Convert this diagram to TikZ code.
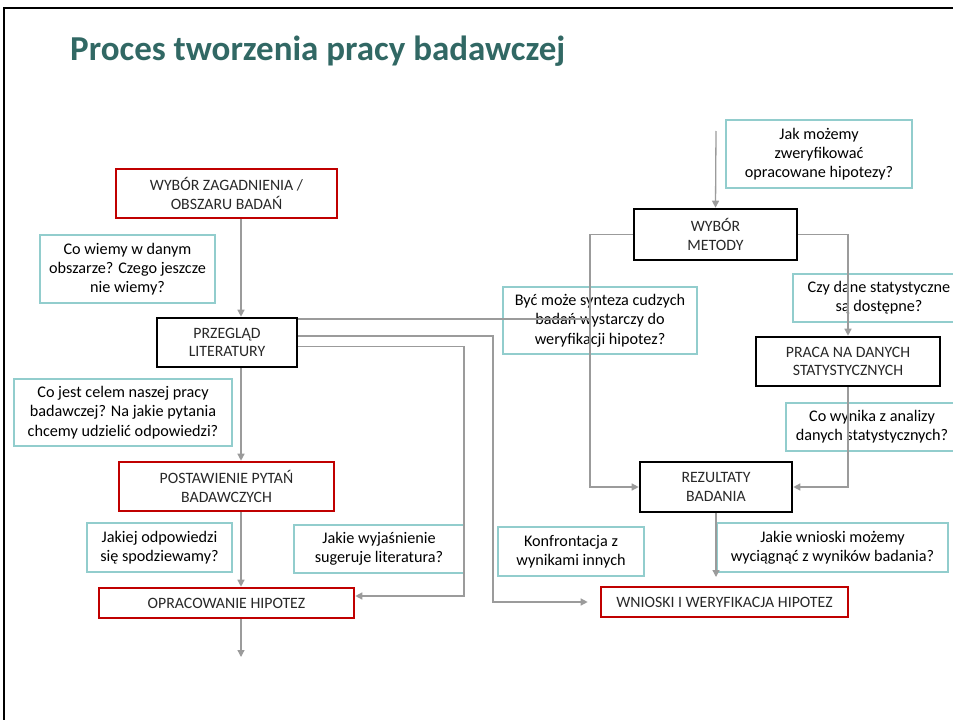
\documentclass[tikz,border=0pt]{standalone}
\usepackage{fontspec}
\setmainfont{Carlito}
\usetikzlibrary{arrows.meta}
\definecolor{titleteal}{RGB}{49,104,100}
\definecolor{boxred}{RGB}{192,0,0}
\definecolor{boxteal}{RGB}{146,205,205}
\definecolor{linegrey}{RGB}{155,155,155}
\definecolor{captext}{RGB}{40,40,40}
\tikzset{
  basebox/.style={rectangle, inner sep=0pt, align=center},
  redbox/.style={basebox, draw=boxred, line width=2.6pt, text=captext, font=\fontsize{15.8}{18.5}\selectfont},
  blackbox/.style={basebox, draw=black, line width=2.6pt, text=captext, font=\fontsize{15.8}{18.5}\selectfont},
  qbox/.style={basebox, draw=boxteal, line width=1.5pt, text=black, font=\fontsize{16.2}{19.3}\selectfont},
  conn/.style={draw=linegrey, line width=1.3pt, -{Triangle[length=7pt,width=7pt]}},
  plainline/.style={draw=linegrey, line width=1.3pt},
}
\begin{document}
\begin{tikzpicture}[x=1pt,y=-1pt]
\useasboundingbox (0,0) rectangle (953,720);
\clip (0,0) rectangle (953,720);
% frame
\draw[line width=2pt] (4,722) -- (4,8) -- (955,8);
% title
\node[anchor=base west, inner sep=0pt, text=titleteal, font=\fontsize{35}{41}\selectfont\bfseries] (title) at (70,60) {Proces tworzenia pracy badawczej};

% question boxes
\node[qbox, minimum width=175pt, minimum height=68pt] (cw) at (127.5,269) {Co wiemy w danym\\obszarze? Czego jeszcze\\nie wiemy?};
\node[qbox, minimum width=218pt, minimum height=67pt] (cj) at (123,412.5) {Co jest celem naszej pracy\\badawczej? Na jakie pytania\\chcemy udzielić odpowiedzi?};
\node[qbox, minimum width=145pt, minimum height=49pt] (jo) at (159.5,547.5) {Jakiej odpowiedzi\\się spodziewamy?};
\node[qbox, minimum width=170pt, minimum height=48pt] (jw) at (379,549) {Jakie wyjaśnienie\\sugeruje literatura?};
\node[qbox, minimum width=146pt, minimum height=49pt] (kf) at (571,551.5) {Konfrontacja z\\wynikami innych};
\node[qbox, minimum width=194pt, minimum height=67pt] (bm) at (600,320.5) {Być może synteza cudzych\\badań wystarczy do\\weryfikacji hipotez?};
\node[qbox, minimum width=186pt, minimum height=68pt] (jm) at (819,154) {Jak możemy\\zweryfikować\\opracowane hipotezy?};
\node[qbox, minimum width=172pt, minimum height=48pt] (cd) at (879,298) {Czy dane statystyczne\\są dostępne?};
\node[qbox, minimum width=172pt, minimum height=48pt] (cwa) at (872,427) {Co wynika z analizy\\danych statystycznych?};
\node[qbox, minimum width=231pt, minimum height=49pt] (jwn) at (832.5,547.5) {Jakie wnioski możemy\\wyciągnąć z wyników badania?};

% main boxes
\node[redbox, minimum width=221pt, minimum height=49pt] (wz) at (226.5,193.5) {WYBÓR ZAGADNIENIA /\\OBSZARU BADAŃ};
\node[blackbox, minimum width=140pt, minimum height=49pt] (pr) at (227,342.5) {PRZEGLĄD\\LITERATURY};
\node[redbox, minimum width=215pt, minimum height=49pt] (ps) at (226.5,486.5) {POSTAWIENIE PYTAŃ\\BADAWCZYCH};
\node[redbox, minimum width=255pt, minimum height=30pt] (op) at (226.5,603) {OPRACOWANIE HIPOTEZ};
\node[blackbox, minimum width=163pt, minimum height=51pt] (wm) at (715.5,234.5) {WYBÓR\\METODY};
\node[blackbox, minimum width=184pt, minimum height=49pt] (pn) at (848,361.5) {PRACA NA DANYCH\\STATYSTYCZNYCH};
\node[blackbox, minimum width=152pt, minimum height=50pt] (rz) at (716,487) {REZULTATY\\BADANIA};
\node[redbox, minimum width=247pt, minimum height=30pt] (wn) at (724.5,602) {WNIOSKI I WERYFIKACJA HIPOTEZ};

% helper coordinates
\coordinate (colL) at (241,0);
\coordinate (endL) at (241,657);
\coordinate (l1) at (0,319);
\coordinate (l2) at (0,336);
\coordinate (l3) at (0,346.5);
\coordinate (x1) at (590,0);
\coordinate (x2) at (493,0);
\coordinate (x3) at (464,0);
\coordinate (opin) at (0,596);
\coordinate (topM) at (716,131);
\coordinate (rzEnd) at (716,577);

% left column
\draw[conn] (wz.south -| colL) -- (pr.north -| colL);
\draw[conn] (pr.south -| colL) -- (ps.north -| colL);
\draw[conn] (ps.south -| colL) -- (op.north -| colL);
\draw[conn] (op.south -| colL) -- (endL);

% lines from PRZEGLAD
\draw[plainline] (pr.east |- l1) -- (x1 |- l1);
\draw[conn, shorten >=12pt] (pr.east |- l2) -- (x2 |- l2) -- (x2 |- wn.west) -- (wn.west);
\draw[conn] (pr.east |- l3) -- (x3 |- l3) -- (x3 |- opin) -- (op.east |- opin);

% right side
\draw[conn] (topM) -- (wm.north);
\draw[conn] (wm.west) -- (x1 |- wm.west) -- (x1 |- rz.west) -- (rz.west);
\draw[conn] (wm.east) -| (pn.north);
\draw[conn] (pn.south) |- (rz.east);
\draw[conn] (rz.south) -- (rzEnd);
\end{tikzpicture}
\end{document}
